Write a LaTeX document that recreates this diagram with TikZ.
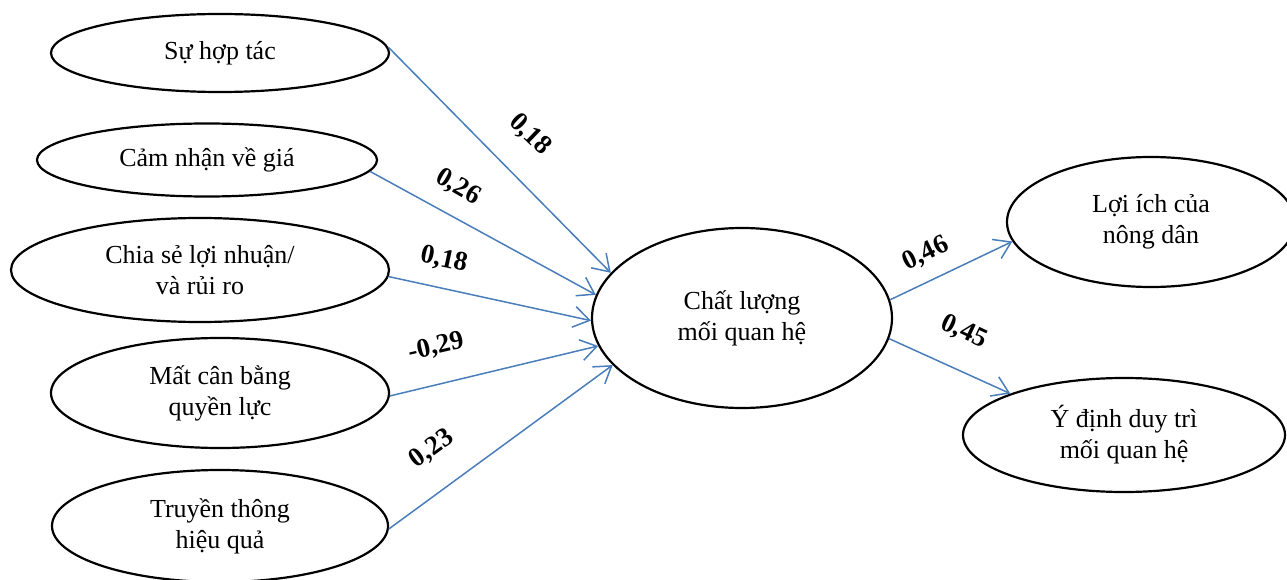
\documentclass[tikz,border=0pt]{standalone}
\usepackage{fontspec}
\setmainfont{Liberation Serif}
\usetikzlibrary{arrows.meta,shapes.geometric}
\definecolor{arrowblue}{RGB}{74,126,187}
\begin{document}
\begin{tikzpicture}[x=1pt,y=-1pt,
  ell/.style={draw=black, line width=2.2pt, ellipse, inner sep=0pt, align=center,
              font=\fontsize{26}{31}\selectfont},
  conn/.style={draw=arrowblue, line width=1.5pt, -{Straight Barb[length=16pt,width=21pt]}},
  coef/.style={font=\fontsize{27}{30}\selectfont\bfseries, inner sep=0pt}]
\useasboundingbox (0,0) rectangle (1287,580);

\node[ell, minimum width=338pt, minimum height=78pt]  (s1) at (220,53)  {Sự hợp tác};
\node[ell, minimum width=340pt, minimum height=73pt]  (s2) at (207,160) {Cảm nhận về giá};
\node[ell, minimum width=378pt, minimum height=104pt] (s3) at (200,270) {Chia sẻ lợi nhuận/\\và rủi ro};
\node[ell, minimum width=338pt, minimum height=110pt] (s4) at (220,393) {Mất cân bằng\\quyền lực};
\node[ell, minimum width=336pt, minimum height=112pt] (s5) at (220,526) {Truyền thông\\hiệu quả};
\node[ell, minimum width=300pt, minimum height=180pt] (c)  at (742,318) {Chất lượng\\mối quan hệ};
\node[ell, minimum width=288pt, minimum height=130pt] (o1) at (1151,222) {Lợi ích của\\nông dân};
\node[ell, minimum width=322pt, minimum height=114pt] (o2) at (1124,435) {Ý định duy trì\\mối quan hệ};

\draw[conn] (s1.2)  -- (c.161);
\draw[conn] (s2.-4) -- (c.171);
\draw[conn] (s3.-2) -- (c.181);
\draw[conn] (s4.-1) -- (c.191);
\draw[conn] (s5.-1) -- (c.200);
\draw[conn] (c.7)   -- (o1.188);
\draw[conn] (c.-8)  -- (o2.160);

\node[coef, rotate=-44] (l1) at (530,135) {0,18};
\node[coef, rotate=-30] (l2) at (458,187) {0,26};
\node[coef, rotate=-12] (l3) at (444,260) {0,18};
\node[coef, rotate=13]  (l4) at (436,347) {-0,29};
\node[coef, rotate=36]  (l5) at (432,449) {0,23};
\node[coef, rotate=26]  (l6) at (926,254) {0,46};
\node[coef, rotate=-25] (l7) at (964,332) {0,45};
\end{tikzpicture}
\end{document}
